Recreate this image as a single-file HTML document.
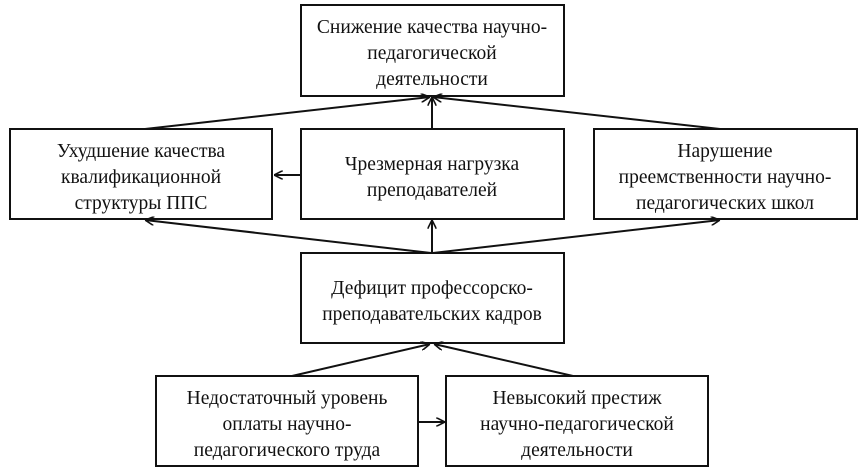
<!DOCTYPE html>
<html><head><meta charset="utf-8"><style>
html,body{margin:0;padding:0;background:#fff;}
svg{display:block;}
text{font-family:"Liberation Serif",serif;font-size:19.5px;fill:#111;text-anchor:middle;}
</style></head><body>
<svg width="860" height="473" viewBox="0 0 860 473" xmlns="http://www.w3.org/2000/svg">
<defs>
<marker id="a" viewBox="0 0 10 10" refX="10" refY="5" markerWidth="9" markerHeight="9" orient="auto" markerUnits="userSpaceOnUse">
<path d="M0,0 L10,5 L0,10" fill="none" stroke="#111" stroke-width="1.8"/>
</marker>
</defs>
<g fill="#fff" stroke="#111" stroke-width="2">
<rect x="301" y="5" width="263" height="91"/>
<rect x="10" y="129" width="262" height="90"/>
<rect x="301" y="129" width="263" height="90"/>
<rect x="594" y="129" width="263" height="90"/>
<rect x="301" y="253" width="263" height="90"/>
<rect x="156" y="376" width="262" height="90"/>
<rect x="446" y="376" width="262" height="90"/>
</g>
<g stroke="#111" stroke-width="2" fill="none" marker-end="url(#a)">
<line x1="145" y1="129" x2="430" y2="97"/>
<line x1="720" y1="129" x2="433" y2="97"/>
<line x1="432" y1="129" x2="432" y2="97"/>
<line x1="301" y1="175" x2="274" y2="175"/>
<line x1="431" y1="253" x2="145" y2="220"/>
<line x1="433" y1="253" x2="720" y2="220"/>
<line x1="432" y1="253" x2="432" y2="220"/>
<line x1="292" y1="376" x2="430" y2="344"/>
<line x1="573" y1="376" x2="434" y2="344"/>
<line x1="418" y1="422" x2="445" y2="422"/>
</g>
<text x="432" y="33">Снижение качества научно-</text>
<text x="432" y="59">педагогической</text>
<text x="432" y="85">деятельности</text>
<text x="141" y="157">Ухудшение качества</text>
<text x="141" y="183">квалификационной</text>
<text x="141" y="209">структуры ППС</text>
<text x="432" y="170">Чрезмерная нагрузка</text>
<text x="432" y="196">преподавателей</text>
<text x="725" y="157">Нарушение</text>
<text x="725" y="183">преемственности научно-</text>
<text x="725" y="209">педагогических школ</text>
<text x="432" y="294">Дефицит профессорско-</text>
<text x="432" y="320">преподавательских кадров</text>
<text x="287" y="404">Недостаточный уровень</text>
<text x="287" y="430">оплаты научно-</text>
<text x="287" y="456">педагогического труда</text>
<text x="577" y="404">Невысокий престиж</text>
<text x="577" y="430">научно-педагогической</text>
<text x="577" y="456">деятельности</text>
</svg>
</body></html>
